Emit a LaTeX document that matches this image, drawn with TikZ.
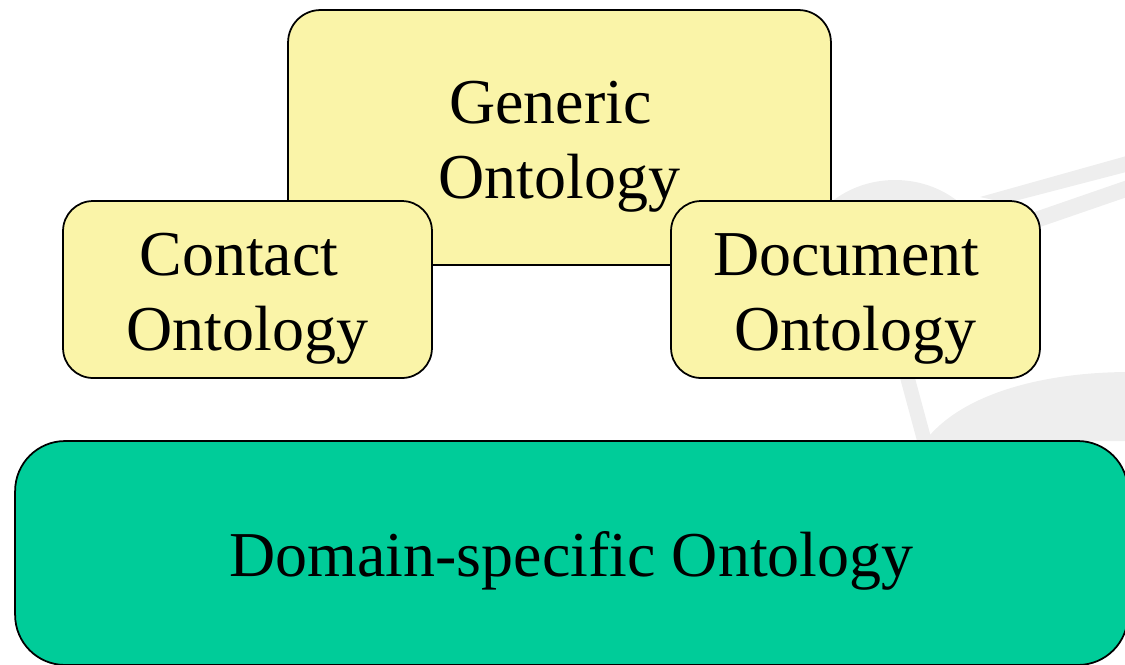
\documentclass[tikz,border=0pt]{standalone}
\usepackage{fontspec}
\setmainfont{Liberation Serif}
\usepackage{tikz}
\usetikzlibrary{positioning}
\definecolor{ontyellow}{RGB}{250,244,168}
\definecolor{ontgreen}{RGB}{0,204,153}
\definecolor{markgray}{RGB}{238,238,238}
\tikzset{
	ontbox/.style={draw=black, line width=1pt, inner sep=0pt},
	upper/.style={ontbox, fill=ontyellow, rounded corners=0.65cm},
	lower/.style={ontbox, fill=ontgreen, rounded corners=1cm},
	onttext/.style={align=center, inner sep=0pt, font=\fontsize{36.4}{42.7}\selectfont}
}

\begin{document}
\begin{tikzpicture}[x=0.02cm, y=-0.02cm]
					\useasboundingbox (0,0) rectangle (1125,664);
					% faint logo in the background
					\fill[markgray] (895,265) ellipse [x radius=95, y radius=85];
					\fill[markgray] (980,197) -- (1130,155) -- (1130,171) -- (1007,203) -- cycle;
					\fill[markgray] (1020,217) -- (1130,179) -- (1130,196) -- (1040,227) -- cycle;
					\fill[markgray] (900,378) -- (915,378) -- (932,441) -- (917,441) -- cycle;
					\fill[markgray] (925,441) .. controls (960,395) and (1040,372) .. (1130,372) -- (1130,441) -- cycle;
					% ontology boxes
					\node[upper, minimum width=10.86cm, minimum height=5.1cm] (generic) at (559.5,137.5) {};
					\node[onttext] (generic text) at ([yshift=-0.18cm]generic.center) {Generic\kern0.36cm\\Ontology};
					\node[upper, rounded corners=0.6cm, minimum width=7.38cm, minimum height=3.54cm] (contact) at (247.5,289.5) {};
					\node[onttext] (contact text) at ([yshift=-0.18cm]contact.center) {Contact\kern0.34cm\\Ontology};
					\node[upper, rounded corners=0.6cm, minimum width=7.38cm, minimum height=3.54cm] (document) at (855.5,289.5) {};
					\node[onttext] (document text) at ([yshift=-0.18cm]document.center) {Document\kern0.36cm\\Ontology};
					\node[lower, minimum width=22.26cm, minimum height=4.48cm] (domain) at (571.5,553) {};
					\node[onttext] (domain text) at ([yshift=-0.16cm]domain.center) {Domain-specific Ontology};
				\end{tikzpicture}
\end{document}
